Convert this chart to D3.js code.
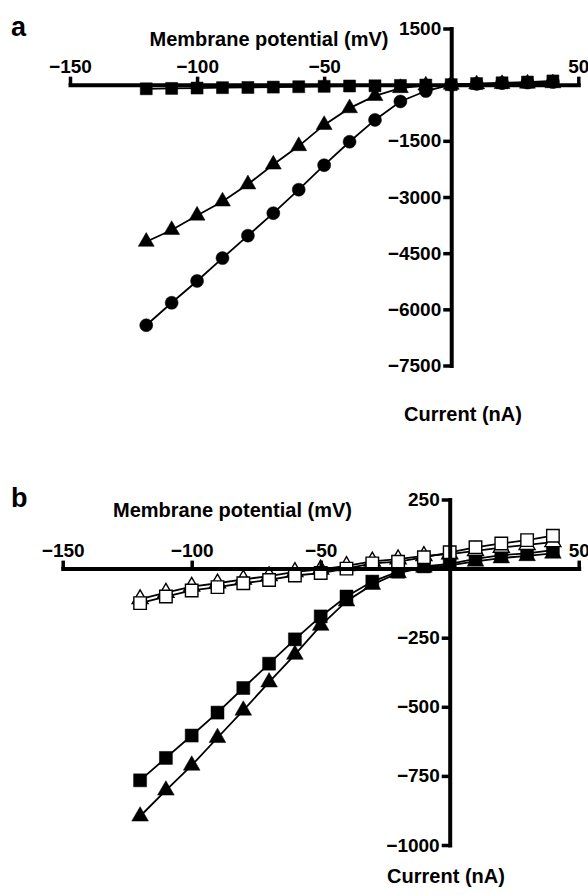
<!DOCTYPE html>
<html>
<head>
<meta charset="utf-8">
<script src="https://cdn.jsdelivr.net/npm/d3@7"></script>
<style>
  html, body { margin: 0; padding: 0; background: #fff; }
  svg { display: block; }
  text { font-family: "Liberation Sans", Arial, Helvetica, sans-serif; font-weight: bold; fill: #000; }
</style>
</head>
<body>
<svg id="chart" width="588" height="895"></svg>
<script>
// ---------- data ----------
const voltages = [-120,-110,-100,-90,-80,-70,-60,-50,-40,-30,-20,-10,0,10,20,30,40];

// panel a (current, nA)
const aCircles   = [-6425,-5825,-5242,-4632,-4032,-3432,-2805,-2151,-1524,-941,-448,-170,0,20,40,55,70];
const aTriangles = [-4194,-3880,-3495,-3118,-2661,-2132,-1640,-1075,-627,-300,-90,-20,0,10,20,30,40];
const aSquares   = [-110,-100,-90,-80,-75,-65,-55,-45,-35,-30,-20,-10,0,30,50,70,100];

// panel b (current, nA)
const bFilledTriangles = [-896,-802,-712,-612,-513,-411,-311,-206,-118,-58,-16,4,12,26,38,46,55];
const bFilledSquares   = [-766,-685,-604,-521,-432,-344,-256,-173,-101,-47,-11,8,17,35,49,55,67];
const bOpenTriangles   = [-110,-87,-65,-53,-39,-27,-12,-3,10,26,34,46,52,64,76,86,96];
const bOpenSquares     = [-125,-101,-79,-67,-53,-41,-25,-16,0,19,25,41,59,77,91,103,119];

const xTicks  = [-150,-100,-50,50];
const aYTicks = [1500,-1500,-3000,-4500,-6000,-7500];
const bYTicks = [250,-250,-500,-750,-1000];

const xLabel = "Membrane potential (mV)";
const yLabel = "Current (nA)";

// ---------- drawing ----------
const svg = d3.select("#chart");

function drawPanel(cfg) {
  const g = svg.append("g");
  const x = d3.scaleLinear().domain([-150, 50]).range(cfg.xRange);
  const y = d3.scaleLinear().domain(cfg.yDomain).range(cfg.yRange);
  const x0 = x(0), y0 = y(0);

  // series
  const line = d3.line().x((d, i) => x(voltages[i])).y(d => y(d));
  cfg.series.forEach(s => {
    g.append("path").datum(s.values)
      .attr("d", line).attr("fill", "none")
      .attr("stroke", "#000").attr("stroke-width", 1.8);
  });
  cfg.series.forEach(s => {
    const fill = s.open ? "#fff" : "#000";
    const sel = g.append("g").selectAll("path.m").data(s.values).enter();
    let sym;
    if (s.shape === "circle") sym = d3.symbol().type(d3.symbolCircle).size(Math.PI * 6.5 * 6.5);
    else if (s.shape === "square") sym = d3.symbol().type(d3.symbolSquare).size(s.size * s.size);
    else sym = d3.symbol().type(d3.symbolTriangle).size(s.size);
    sel.append("path")
      .attr("d", sym)
      .attr("transform", (d, i) => `translate(${x(voltages[i])},${y(d)})`)
      .attr("fill", fill)
      .attr("stroke", "#000")
      .attr("stroke-width", s.open ? 1.4 : 0.5);
  });

  // x axis (drawn along y = 0, labels on top)
  const xAxis = g.append("g").attr("transform", `translate(0,${y0})`)
    .call(d3.axisTop(x).tickValues(xTicks).tickSize(8).tickSizeOuter(0).tickPadding(4)
      .tickFormat(d3.format("d")));
  // y axis (drawn along x = 0)
  const yAxis = g.append("g").attr("transform", `translate(${x0},0)`)
    .call(d3.axisLeft(y).tickValues(cfg.yTicks).tickSize(8).tickSizeOuter(0).tickPadding(2)
      .tickFormat(d3.format("d")));
  [xAxis, yAxis].forEach(ax => {
    ax.attr("font-family", null).attr("font-size", null);
    ax.select(".domain").attr("stroke", "#000").attr("stroke-width", 4).attr("stroke-linecap", "square");
    ax.selectAll(".tick line").attr("stroke", "#000").attr("stroke-width", 3.5);
    ax.selectAll(".tick text").style("font-size", "19px").attr("fill", "#000");
  });

  // axis titles & panel letter
  g.append("text").attr("x", cfg.titleX).attr("y", cfg.titleY)
    .attr("text-anchor", "middle").style("font-size", "20px").text(xLabel);
  g.append("text").attr("x", cfg.yTitleX).attr("y", cfg.yTitleY)
    .attr("text-anchor", "middle").style("font-size", "20px").text(yLabel);
  g.append("text").attr("x", 11).attr("y", cfg.letterY)
    .style("font-size", "27px").text(cfg.letter);
}

drawPanel({
  letter: "a", letterY: 36,
  xRange: [70, 578.3],
  yDomain: [1500, -7500], yRange: [28.5, 365.5],
  yTicks: aYTicks,
  titleX: 269, titleY: 45.5,
  yTitleX: 463, yTitleY: 421,
  series: [
    { values: aCircles, shape: "circle" },
    { values: aTriangles, shape: "triangle", size: 110 },
    { values: aSquares, shape: "square", size: 12 }
  ]
});

drawPanel({
  letter: "b", letterY: 507,
  xRange: [62.7, 578.7],
  yDomain: [250, -1000], yRange: [499.5, 845],
  yTicks: bYTicks,
  titleX: 232.5, titleY: 517,
  yTitleX: 446, yTitleY: 883,
  series: [
    { values: bFilledTriangles, shape: "triangle", size: 120 },
    { values: bFilledSquares, shape: "square", size: 13 },
    { values: bOpenTriangles, shape: "triangle", size: 110, open: true },
    { values: bOpenSquares, shape: "square", size: 12.5, open: true }
  ]
});
</script>
</body>
</html>
